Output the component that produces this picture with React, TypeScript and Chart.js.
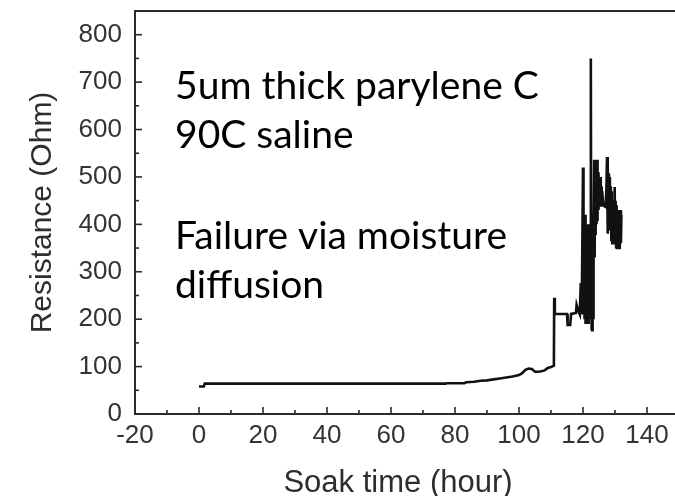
import React, { useEffect, useRef } from "react";
import { Chart, registerables } from "chart.js";

Chart.register(...registerables);

// ---- data ----
const hours: number[] = [
  0, 1.5, 1.8, 20, 40, 60, 77, 77.5, 83, 83.5, 86, 88, 90, 92, 94, 96, 98, 100,
  101, 102, 103, 104, 105, 106, 107, 108, 109, 110, 110.9, 111, 111.2, 115,
  115.2, 116, 116.3, 117.8, 118, 118.5, 119, 119.3, 119.6,
  120.0, 120.08, 120.16, 120.24, 120.32, 120.4, 120.48, 120.56, 120.64, 120.72,
  120.8, 120.88, 120.96, 121.04, 121.12, 121.2, 121.28, 121.36, 121.44, 121.52,
  121.6, 121.68, 121.76, 121.84, 121.92, 122.0, 122.08, 122.16, 122.25, 122.45,
  122.55, 122.65, 122.75, 122.85, 122.95, 123.05, 123.15, 123.25, 123.35, 123.5,
  123.6, 123.7, 123.8, 123.9, 124.0, 124.1, 124.2, 124.3, 124.4, 124.5,
  124.6, 124.7, 124.8, 124.9, 125.0, 125.1, 125.25, 125.4, 125.55, 125.7,
  125.85, 126.0, 126.3, 127.0, 127.3, 127.5, 127.65, 127.8, 127.95, 128.1,
  128.25, 128.4, 128.55, 128.7, 128.85, 129.0, 129.15, 129.3, 129.45, 129.6,
  129.75, 129.9, 130.05, 130.2, 130.35, 130.5, 130.65, 130.8, 130.95, 131.1,
  131.25, 131.4, 131.55, 131.7, 131.85, 132.0,
];
const resistance: number[] = [
  58, 58, 64, 64, 64, 64, 64, 65, 65, 67, 68, 70, 71, 73, 75, 77, 79, 82,
  86, 93, 96, 95, 89, 89, 90, 92, 97, 99, 102, 245, 211, 211,
  188, 188, 211, 213, 230, 218, 210, 276, 210,
  520, 230, 410, 210, 390, 200, 380, 220, 420, 200,
  370, 190, 400, 210, 360, 200, 390, 190, 350, 220,
  380, 190, 360, 230, 400, 200, 380, 210, 360, 750,
  300, 177, 400, 177, 420, 180, 400, 200, 380, 536,
  330, 536, 380, 530, 390, 536, 400, 520, 410, 536,
  420, 510, 430, 500, 440, 494, 440, 500, 437, 480,
  440, 470, 440, 437, 470, 542, 380, 520, 400, 508,
  390, 500, 409, 480, 367, 470, 360, 450, 370, 440,
  360, 479, 360, 450, 352, 440, 350, 430, 350, 430,
  350, 425, 350, 430, 360, 420,
];

const xTicks: number[] = [-20, 0, 20, 40, 60, 80, 100, 120, 140];
const yTicks: number[] = [0, 100, 200, 300, 400, 500, 600, 700, 800];
const xTitle = "Soak time (hour)";
const yTitle = "Resistance (Ohm)";
const noteLines: string[] = [
  "5um thick parylene C",
  "90C saline",
  "Failure via moisture",
  "diffusion",
];

const AXIS_FONT = "'Liberation Sans', Arial, sans-serif";
const NOTE_FONT = "Lato, 'Open Sans', sans-serif";

const framePlugin = {
  id: "frame",
  afterDraw(chart: any) {
    const { ctx, chartArea } = chart;
    const xs = chart.scales.x;
    const ys = chart.scales.y;
    ctx.save();
    ctx.strokeStyle = "#2b2b2b";
    ctx.lineWidth = 2;
    // top border
    ctx.beginPath();
    ctx.moveTo(chartArea.left, chartArea.top);
    ctx.lineTo(chartArea.right, chartArea.top);
    ctx.stroke();
    // inward ticks on x axis
    ctx.lineWidth = 1.6;
    for (let v = xTicks[0]; v <= xTicks[xTicks.length - 1]; v += 10) {
      const major = xTicks.includes(v);
      const px = xs.getPixelForValue(v);
      ctx.beginPath();
      ctx.moveTo(px, chartArea.bottom);
      ctx.lineTo(px, chartArea.bottom - (major ? 7 : 4));
      ctx.stroke();
    }
    // inward ticks on y axis
    for (let v = yTicks[0]; v <= yTicks[yTicks.length - 1]; v += 50) {
      const major = yTicks.includes(v);
      const py = ys.getPixelForValue(v);
      ctx.beginPath();
      ctx.moveTo(chartArea.left, py);
      ctx.lineTo(chartArea.left + (major ? 7 : 4), py);
      ctx.stroke();
    }
    // axis titles
    ctx.fillStyle = "#2e2e2e";
    ctx.textAlign = "center";
    ctx.textBaseline = "alphabetic";
    ctx.font = `31px ${AXIS_FONT}`;
    ctx.fillText(xTitle, 398, 492);
    ctx.save();
    ctx.translate(51, (chartArea.top + chartArea.bottom) / 2);
    ctx.rotate(-Math.PI / 2);
    ctx.font = `30px ${AXIS_FONT}`;
    ctx.fillText(yTitle, 0, 0);
    ctx.restore();
    // annotation text
    ctx.fillStyle = "#000";
    ctx.textAlign = "left";
    ctx.font = `100px ${NOTE_FONT}`;
    const w = ctx.measureText(noteLines[0]).width;
    const size = (100 * 364) / w;
    ctx.font = `${size}px ${NOTE_FONT}`;
    const baselines = [99, 148, 249, 298];
    noteLines.forEach((t, i) => ctx.fillText(t, 175, baselines[i]));
    ctx.restore();
  },
};

export default function App() {
  const ref = useRef<HTMLCanvasElement | null>(null);
  useEffect(() => {
    if (!ref.current) return;
    const points = hours.map((h, i) => ({ x: h, y: resistance[i] }));
    const chart = new Chart(ref.current, {
      type: "scatter",
      data: {
        datasets: [
          {
            data: points,
            showLine: true,
            borderColor: "#111",
            borderWidth: 2.6,
            pointRadius: 0,
            tension: 0,
          },
        ],
      },
      options: {
        animation: false,
        responsive: false,
        devicePixelRatio: 1,
        layout: { padding: { top: 11, right: 0, left: 0, bottom: 0 } },
        plugins: { legend: { display: false }, tooltip: { enabled: false } },
        scales: {
          x: {
            type: "linear",
            min: -20,
            max: 148.75,
            afterFit: (s: any) => {
              s.height = 82;
              s.paddingLeft = 0;
              s.paddingRight = 0;
            },
            afterBuildTicks: (s: any) => {
              s.ticks = xTicks.map((v) => ({ value: v }));
            },
            ticks: {
              stepSize: 20,
              includeBounds: false,
              autoSkip: false,
              maxRotation: 0,
              padding: 6,
              color: "#333",
              font: { family: AXIS_FONT, size: 26 },
            },
            grid: { display: false, drawTicks: false },
            border: { display: true, color: "#2b2b2b", width: 2 },
          },
          y: {
            type: "linear",
            min: 0,
            max: 850,
            afterFit: (s: any) => {
              s.width = 135;
              s.paddingTop = 0;
              s.paddingBottom = 0;
            },
            afterBuildTicks: (s: any) => {
              s.ticks = yTicks.map((v) => ({ value: v }));
            },
            ticks: {
              stepSize: 100,
              includeBounds: false,
              autoSkip: false,
              padding: 13,
              color: "#333",
              font: { family: AXIS_FONT, size: 26 },
            },
            grid: { display: false, drawTicks: false },
            border: { display: true, color: "#2b2b2b", width: 2 },
          },
        },
      },
      plugins: [framePlugin],
    });
    return () => chart.destroy();
  }, []);
  return (
    <div style={{ position: "fixed", left: 0, top: 0, width: 675, height: 496, background: "#fff" }}>
      <canvas ref={ref} width={675} height={496} style={{ display: "block", width: 675, height: 496 }} />
    </div>
  );
}
